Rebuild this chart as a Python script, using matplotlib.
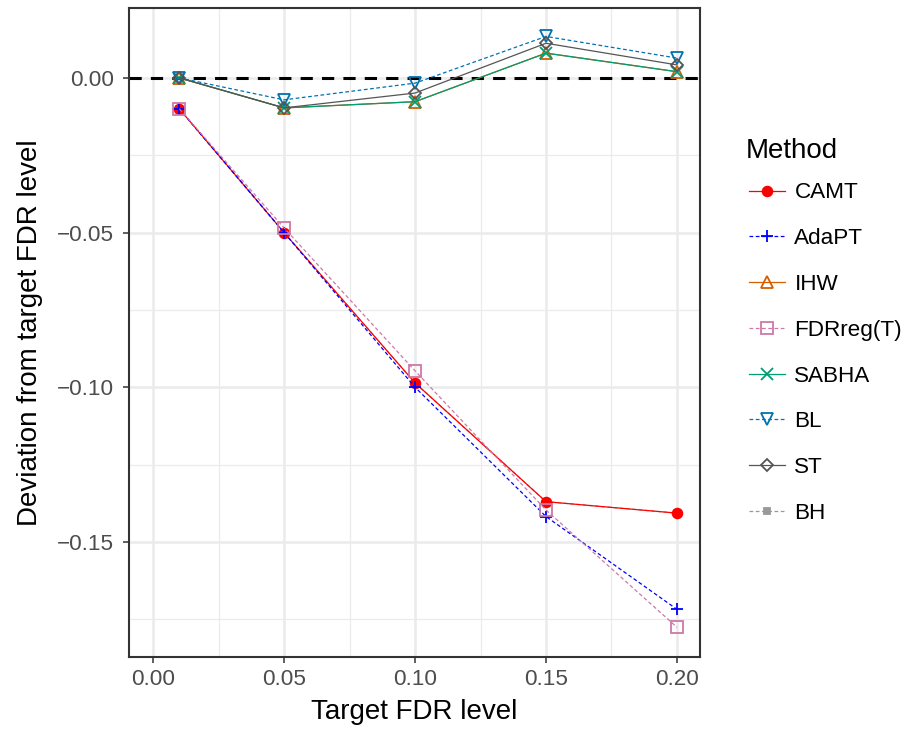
import matplotlib.pyplot as plt
from matplotlib.ticker import MultipleLocator

plt.rcParams['font.family'] = ['Liberation Sans', 'DejaVu Sans']

fdr = [0.01, 0.05, 0.10, 0.15, 0.20]

camt = [-0.010, -0.050, -0.0986, -0.1370, -0.1407]
adapt = [-0.010, -0.050, -0.1000, -0.1418, -0.1718]
ihw = [0.000, -0.0097, -0.0077, 0.0080, 0.0020]
fdrreg = [-0.010, -0.0485, -0.0947, -0.1397, -0.1776]
sabha = [0.000, -0.0097, -0.0077, 0.0080, 0.0020]
bl = [0.000, -0.0071, -0.0017, 0.0134, 0.0064]
st = [0.000, -0.0097, -0.0049, 0.0112, 0.0042]
bh = [-0.010, -0.050, -0.0986, -0.1370, -0.1407]

# name, values, colour, linestyle, marker, filled
methods = [
    ("CAMT", camt, "#FF0000", "-", "o", True),
    ("AdaPT", adapt, "#0000FF", "--", "+", True),
    ("IHW", ihw, "#D55E00", "-", "^", False),
    ("FDRreg(T)", fdrreg, "#CC79A7", "--", "s", False),
    ("SABHA", sabha, "#009E73", "-", "x", True),
    ("BL", bl, "#0072B2", "--", "v", False),
    ("ST", st, "#555555", "-", "D", False),
    ("BH", bh, "#999999", "--", "s", True),
]

fig = plt.figure(figsize=(9.11, 7.32), dpi=100)
ax = fig.add_axes([0.1416, 0.1025, 0.6268, 0.8866])

handles = []
for i, (name, vals, col, ls, mk, filled) in enumerate(methods):
    z = 1 if name == "BH" else 3 + i
    ms = 8
    if mk == "o":
        ms = 7
    if mk == "D":
        ms = 6.5
    if name == "BH":
        ms = 5
    h, = ax.plot(fdr, vals, color=col, linestyle=ls, linewidth=0.9,
                 marker=mk, markersize=ms,
                 markerfacecolor=col if filled else "none",
                 markeredgecolor=col, markeredgewidth=1.3,
                 zorder=z, label=name)
    if ls == "--":
        h.set_dashes((3, 2))
    handles.append(h)

ax.axhline(0, color="black", linestyle=(0, (4, 3)), linewidth=2.2, zorder=2)

ax.set_xlim(-0.0092, 0.2088)
ax.set_ylim(-0.1872, 0.0226)
ax.xaxis.set_major_locator(MultipleLocator(0.05))
ax.xaxis.set_minor_locator(MultipleLocator(0.025))
ax.yaxis.set_major_locator(MultipleLocator(0.05))
ax.yaxis.set_minor_locator(MultipleLocator(0.025))
ax.xaxis.set_major_formatter(plt.FuncFormatter(lambda v, p: f"{v:.2f}".replace("-", "\u2212")))
ax.yaxis.set_major_formatter(plt.FuncFormatter(lambda v, p: f"{v:.2f}".replace("-", "\u2212")))

ax.grid(which="major", color="#EBEBEB", linewidth=1.8, zorder=0)
ax.grid(which="minor", color="#EBEBEB", linewidth=0.9, zorder=0)
ax.set_axisbelow(True)
for s in ax.spines.values():
    s.set_color("#333333")
    s.set_linewidth(1.5)
ax.tick_params(which="major", length=4, width=1.1, color="#333333",
               labelsize=16.2, labelcolor="#4D4D4D")
ax.tick_params(axis="x", which="major", pad=4.5)
ax.tick_params(axis="y", which="major", pad=6.5)
ax.tick_params(which="minor", length=0)

ax.set_xlabel("Target FDR level", fontsize=20, labelpad=7)
ax.set_ylabel("Deviation from target FDR level", fontsize=20, labelpad=10)

fig.text(746 / 911, 1 - 158 / 732, "Method", fontsize=20, ha="left", va="baseline")
leg = fig.legend(handles=handles, loc="upper left", bbox_to_anchor=(749 / 911, 1 - 182.5 / 732),
                 frameon=False, fontsize=16.2,
                 handlelength=1.58, handletextpad=0.44, labelspacing=1.1,
                 borderpad=0, borderaxespad=0)

plt.savefig("out.png", dpi=100)
